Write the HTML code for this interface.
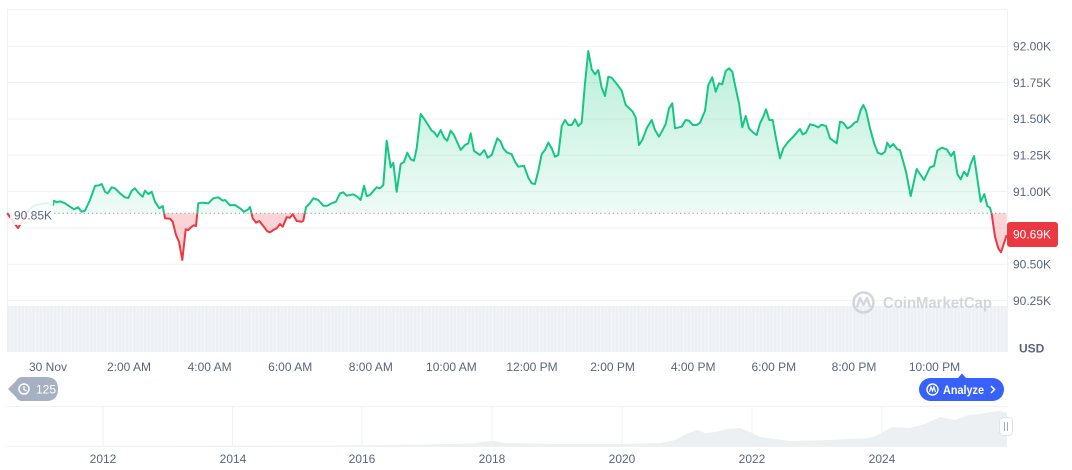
<!DOCTYPE html>
<html><head><meta charset="utf-8"><style>
html,body{margin:0;padding:0;background:#fff;}
svg{display:block;font-family:"Liberation Sans",sans-serif;}
</style></head><body>
<svg width="1072" height="470" viewBox="0 0 1072 470" xmlns="http://www.w3.org/2000/svg">
<defs>
<linearGradient id="gg" gradientUnits="userSpaceOnUse" x1="0" y1="46" x2="0" y2="213">
<stop offset="0" stop-color="#16c784" stop-opacity="0.30"/>
<stop offset="1" stop-color="#16c784" stop-opacity="0.07"/>
</linearGradient>
<clipPath id="above"><rect x="0" y="0" width="1072" height="213.3"/></clipPath>
<clipPath id="below"><rect x="0" y="213.3" width="1072" height="200"/></clipPath>
<pattern id="vol" width="3.6" height="50" patternUnits="userSpaceOnUse" x="7">
<rect x="0" y="0" width="3.6" height="50" fill="#edf0f4"/>
<rect x="2.8" y="0" width="0.8" height="50" fill="#f7f8fa"/>
</pattern>
<path id="area" d="M7,213 L7,213 10,217 14,223 18,228 22,222 27,213 33,206 40,204 47,203 52,205 53,205 54,200.7 56.7,202.3 60,201.3 65,203.3 70,206.7 74,209.3 78,207.3 81.7,211.7 85,210.7 90,200 95,186 99,185.3 101.7,184 105,191.7 107.7,193.3 111.7,187.3 115,188.3 120,193.3 125,197.3 128.3,198 131.7,190.7 135,188.3 138.3,192.7 142.7,196.7 145,190.7 148.3,194 151.7,191.7 155,201.7 159.3,208.3 162.7,206 165,218.3 170,218.7 172.7,221.7 176,235 179,241.7 182.3,260 185.7,229.3 188.3,230 191.7,226.7 194,225.3 196,226 198.3,203.3 201.7,202.7 208.3,203.3 213.3,198.3 218.3,197.3 222.7,200.7 225,200 230,205.3 235,205 240,208.3 244,211.7 248.3,209.3 250,207 252.7,218.3 256,222.7 259.3,221 263.3,226 267.3,231.3 270,232.3 273.3,230 276.7,228.3 280,224 282.7,226.7 286.7,217.3 290,217.7 292.7,214.3 296.7,221 301.7,221.7 303.3,220.7 306,207.3 309.3,204 313.3,198.3 318.3,200 323.3,205.7 327.3,205.7 331.7,203.3 336,201.7 340,193.3 343.3,192.3 346.7,195.7 353.3,194.3 357.3,196.7 360.7,200 364,185.7 366.7,196 370,195 372.7,191.7 376.7,187.3 380,188.3 383.3,185 386.7,140.7 390.7,167.3 393.3,162.7 396.7,191.7 400.7,164 404,162 407.3,152.7 410.7,159.3 414,160.7 416.7,148.3 420.7,114 425,120 431.7,130.7 434,132 437.3,136.7 440.7,130 444,137.7 447.3,140.7 450.7,130.7 454,135 460.7,150 465,145 468.3,143.3 470.7,133.3 474,151 480,155 484.3,150 487.7,157.7 491.7,155 497.3,138.3 500.7,141.7 503.3,148.3 506.7,152.3 511.7,154.3 515,161.7 518.3,166.7 524,165.7 528.3,177.7 531.7,183.3 535,184 538.3,171 541.7,154 545,150 548.3,142.7 551.7,148.3 555,156.7 558.3,155 561.7,126 565,120 568.3,125 571.7,125 575,119.3 578.3,126 581.7,122.7 585,83.3 588.3,51 591.7,69.3 595,74.3 598.3,70 601.7,87.7 605,96 608.3,76.7 611.7,77.7 615,81.7 618.3,86 621.7,90.7 625.7,105 630,109 632.7,111.7 635.7,117.7 639,145 642.3,140 646.7,128.3 651.7,120 655,130 659,136.7 662.3,130.7 665.7,124 669,108.3 672.3,103.3 675,128.3 681.7,126.7 685.7,120 689,120.7 692.7,125 696.7,125 700,122.7 705,110.7 708.3,85 712.3,77.3 715.7,91.7 719,83.3 722.3,84.3 725.7,71 729,68.3 732.3,71.7 735,85 739,103.3 742.3,127.3 745.7,116 749,128.3 753.3,132.7 756.7,135 760,123.3 763.3,116.7 766,109.3 769.3,120 772.7,120 776,138.3 780,158.3 783.3,148.3 788.3,141.7 793.3,136.7 796.7,132.7 800,129 802.7,134.3 806,132.7 810,124.3 814.3,125.3 818.3,127.3 821.7,124.7 826,126 830,138.3 836.7,143.3 840,121.7 843.3,122.7 847.3,128.3 850.7,126.7 855,122.3 857.3,121.7 860.7,110 863.3,105 866,110.7 870,128.3 874,142.7 877.7,152.7 881.7,154.3 885,151.7 887.3,142.7 890,147.3 893.3,144 897.3,149.3 900,150 906,171.7 910.7,196 916.7,169 924,180 930,167.3 934,166 937.3,150.7 941.7,147.7 946.7,149.3 951,156 954,151.7 957.3,174 960.7,179.3 964,171.7 967.3,176 970.7,164 974,156 977.3,178.3 980.7,201.7 984.3,194 987.3,206 990,207.7 991.7,214 995,236.7 998.3,248.3 1001,252.3 1004,243.3 1006.7,235 L1006.7,213.3 L7,213.3 Z"/>
<path id="ln" d="M7,213 L10,217 14,223 18,228 22,222 27,213 33,206 40,204 47,203 52,205 53,205 54,200.7 56.7,202.3 60,201.3 65,203.3 70,206.7 74,209.3 78,207.3 81.7,211.7 85,210.7 90,200 95,186 99,185.3 101.7,184 105,191.7 107.7,193.3 111.7,187.3 115,188.3 120,193.3 125,197.3 128.3,198 131.7,190.7 135,188.3 138.3,192.7 142.7,196.7 145,190.7 148.3,194 151.7,191.7 155,201.7 159.3,208.3 162.7,206 165,218.3 170,218.7 172.7,221.7 176,235 179,241.7 182.3,260 185.7,229.3 188.3,230 191.7,226.7 194,225.3 196,226 198.3,203.3 201.7,202.7 208.3,203.3 213.3,198.3 218.3,197.3 222.7,200.7 225,200 230,205.3 235,205 240,208.3 244,211.7 248.3,209.3 250,207 252.7,218.3 256,222.7 259.3,221 263.3,226 267.3,231.3 270,232.3 273.3,230 276.7,228.3 280,224 282.7,226.7 286.7,217.3 290,217.7 292.7,214.3 296.7,221 301.7,221.7 303.3,220.7 306,207.3 309.3,204 313.3,198.3 318.3,200 323.3,205.7 327.3,205.7 331.7,203.3 336,201.7 340,193.3 343.3,192.3 346.7,195.7 353.3,194.3 357.3,196.7 360.7,200 364,185.7 366.7,196 370,195 372.7,191.7 376.7,187.3 380,188.3 383.3,185 386.7,140.7 390.7,167.3 393.3,162.7 396.7,191.7 400.7,164 404,162 407.3,152.7 410.7,159.3 414,160.7 416.7,148.3 420.7,114 425,120 431.7,130.7 434,132 437.3,136.7 440.7,130 444,137.7 447.3,140.7 450.7,130.7 454,135 460.7,150 465,145 468.3,143.3 470.7,133.3 474,151 480,155 484.3,150 487.7,157.7 491.7,155 497.3,138.3 500.7,141.7 503.3,148.3 506.7,152.3 511.7,154.3 515,161.7 518.3,166.7 524,165.7 528.3,177.7 531.7,183.3 535,184 538.3,171 541.7,154 545,150 548.3,142.7 551.7,148.3 555,156.7 558.3,155 561.7,126 565,120 568.3,125 571.7,125 575,119.3 578.3,126 581.7,122.7 585,83.3 588.3,51 591.7,69.3 595,74.3 598.3,70 601.7,87.7 605,96 608.3,76.7 611.7,77.7 615,81.7 618.3,86 621.7,90.7 625.7,105 630,109 632.7,111.7 635.7,117.7 639,145 642.3,140 646.7,128.3 651.7,120 655,130 659,136.7 662.3,130.7 665.7,124 669,108.3 672.3,103.3 675,128.3 681.7,126.7 685.7,120 689,120.7 692.7,125 696.7,125 700,122.7 705,110.7 708.3,85 712.3,77.3 715.7,91.7 719,83.3 722.3,84.3 725.7,71 729,68.3 732.3,71.7 735,85 739,103.3 742.3,127.3 745.7,116 749,128.3 753.3,132.7 756.7,135 760,123.3 763.3,116.7 766,109.3 769.3,120 772.7,120 776,138.3 780,158.3 783.3,148.3 788.3,141.7 793.3,136.7 796.7,132.7 800,129 802.7,134.3 806,132.7 810,124.3 814.3,125.3 818.3,127.3 821.7,124.7 826,126 830,138.3 836.7,143.3 840,121.7 843.3,122.7 847.3,128.3 850.7,126.7 855,122.3 857.3,121.7 860.7,110 863.3,105 866,110.7 870,128.3 874,142.7 877.7,152.7 881.7,154.3 885,151.7 887.3,142.7 890,147.3 893.3,144 897.3,149.3 900,150 906,171.7 910.7,196 916.7,169 924,180 930,167.3 934,166 937.3,150.7 941.7,147.7 946.7,149.3 951,156 954,151.7 957.3,174 960.7,179.3 964,171.7 967.3,176 970.7,164 974,156 977.3,178.3 980.7,201.7 984.3,194 987.3,206 990,207.7 991.7,214 995,236.7 998.3,248.3 1001,252.3 1004,243.3 1006.7,235"/>
</defs>
<!-- grid -->
<g stroke="#eff2f5" stroke-width="1">
<line x1="7" y1="9.5" x2="1007" y2="9.5"/>
<line x1="7" y1="46.3" x2="1007" y2="46.3"/>
<line x1="7" y1="82.6" x2="1007" y2="82.6"/>
<line x1="7" y1="119" x2="1007" y2="119"/>
<line x1="7" y1="155.3" x2="1007" y2="155.3"/>
<line x1="7" y1="191.6" x2="1007" y2="191.6"/>
<line x1="7" y1="228" x2="1007" y2="228"/>
<line x1="7" y1="264.3" x2="1007" y2="264.3"/>
<line x1="7" y1="300.6" x2="1007" y2="300.6"/>
<line x1="7.5" y1="9" x2="7.5" y2="352"/>
<line x1="1007.5" y1="9" x2="1007.5" y2="352"/>
</g>
<!-- volume -->
<rect x="7" y="306" width="1000" height="46" fill="url(#vol)"/>
<!-- watermark -->
<g opacity="0.9">
<circle cx="863.5" cy="302.5" r="10" fill="none" stroke="#cfd3d9" stroke-width="2.6"/>
<path d="M857 307 L860 298 L863.5 305 L867 298 L870 307" fill="none" stroke="#cfd3d9" stroke-width="2.4" stroke-linejoin="round"/>
<text x="883" y="308" font-size="16" font-weight="bold" fill="#cfd3d9" textLength="109" lengthAdjust="spacingAndGlyphs">CoinMarketCap</text>
</g>
<!-- series fills -->
<use href="#area" fill="url(#gg)" clip-path="url(#above)"/>
<use href="#area" fill="#ea3943" fill-opacity="0.22" clip-path="url(#below)"/>
<!-- series lines -->
<use href="#ln" fill="none" stroke="#16c784" stroke-width="2" stroke-linejoin="round" clip-path="url(#above)"/>
<use href="#ln" fill="none" stroke="#ea3943" stroke-width="2" stroke-linejoin="round" clip-path="url(#below)"/>
<!-- baseline -->
<line x1="8" y1="213.3" x2="1007" y2="213.3" stroke="#8a94a6" stroke-width="1" stroke-dasharray="1.2,3"/>
<!-- start label with fade -->
<rect x="10" y="196" width="43" height="29" fill="#fff" fill-opacity="0.86"/>
<text x="14" y="219.5" font-size="12" fill="#58667e">90.85K</text>
<!-- right axis -->
<g font-size="12" fill="#58667e">
<text x="1013" y="50.5">92.00K</text>
<text x="1013" y="87">91.75K</text>
<text x="1013" y="123">91.50K</text>
<text x="1013" y="159.5">91.25K</text>
<text x="1013" y="196">91.00K</text>
<text x="1013" y="268.5">90.50K</text>
<text x="1013" y="305">90.25K</text>
<text x="1019" y="352.5" font-weight="bold">USD</text>
</g>
<rect x="1007" y="222" width="51" height="25" rx="3" fill="#ea3943"/>
<text x="1013" y="238.5" font-size="12" fill="#fff">90.69K</text>
<!-- x axis -->
<g font-size="12" fill="#58667e" text-anchor="middle">
<text x="48" y="371">30 Nov</text>
<text x="129" y="371">2:00 AM</text>
<text x="209.6" y="371">4:00 AM</text>
<text x="290.2" y="371">6:00 AM</text>
<text x="370.8" y="371">8:00 AM</text>
<text x="451.4" y="371">10:00 AM</text>
<text x="532" y="371">12:00 PM</text>
<text x="612.6" y="371">2:00 PM</text>
<text x="693.2" y="371">4:00 PM</text>
<text x="773.8" y="371">6:00 PM</text>
<text x="854" y="371">8:00 PM</text>
<text x="934.5" y="371">10:00 PM</text>
</g>
<!-- 125 badge -->
<path d="M8,389 L16,381 Q18,377 22,377 L46,377 Q58,377 58,389 Q58,401 46,401 L22,401 Q18,401 16,397 Z" fill="#a6b0c3"/>
<circle cx="24" cy="389" r="5" fill="none" stroke="#fff" stroke-width="1.5"/>
<path d="M24,386 L24,389.5 L26.5,391" fill="none" stroke="#fff" stroke-width="1.3"/>
<text x="36" y="393.5" font-size="12" fill="#fff">125</text>
<!-- Analyze button -->
<path d="M958,378 L962,373.5 L966,378 Z" fill="#3861fb"/>
<rect x="919" y="378" width="85" height="23" rx="11.5" fill="#3861fb"/>
<circle cx="932.5" cy="389.5" r="5.5" fill="none" stroke="#fff" stroke-width="1.4"/>
<path d="M929.5,392 L931,387 L932.5,391 L934,387 L935.5,392" fill="none" stroke="#fff" stroke-width="1.2"/>
<text x="943" y="394" font-size="12" font-weight="bold" fill="#fff" textLength="41" lengthAdjust="spacingAndGlyphs">Analyze</text>
<path d="M991,386 L994.5,389.5 L991,393" fill="none" stroke="#fff" stroke-width="1.5"/>
<!-- navigator -->
<g stroke="#eff2f5" stroke-width="1">
<line x1="7" y1="406.5" x2="1007" y2="406.5"/>
<line x1="7" y1="446.5" x2="1007" y2="446.5"/>
<line x1="103" y1="406" x2="103" y2="446"/>
<line x1="232.5" y1="406" x2="232.5" y2="446"/>
<line x1="362" y1="406" x2="362" y2="446"/>
<line x1="492" y1="406" x2="492" y2="446"/>
<line x1="622" y1="406" x2="622" y2="446"/>
<line x1="752" y1="406" x2="752" y2="446"/>
<line x1="882" y1="406" x2="882" y2="446"/>
</g>
<path d="M7,446 L330,445.5 400,445 470,443.5 485,441.5 495,441 505,443 560,444 620,444 660,443 675,440 688,433 697,430 705,433 715,432 728,429 740,428 750,432 760,437 790,441 830,440 870,438 880,434 892,427 910,428 925,424 940,417 955,420 968,415 980,414 990,412 1000,411 1007,413 L1007,446 Z" fill="#edf0f3"/>
<g font-size="12" fill="#58667e" text-anchor="middle">
<text x="103" y="463">2012</text>
<text x="233" y="463">2014</text>
<text x="362" y="463">2016</text>
<text x="492" y="463">2018</text>
<text x="622" y="463">2020</text>
<text x="752" y="463">2022</text>
<text x="882" y="463">2024</text>
</g>
<rect x="999.5" y="417.5" width="13" height="18" rx="4" fill="#fff" stroke="#dfe3e8" stroke-width="1"/>
<line x1="1004.5" y1="422" x2="1004.5" y2="431" stroke="#a6b0c3" stroke-width="1"/>
<line x1="1007.5" y1="422" x2="1007.5" y2="431" stroke="#a6b0c3" stroke-width="1"/>
</svg>
</body></html>
